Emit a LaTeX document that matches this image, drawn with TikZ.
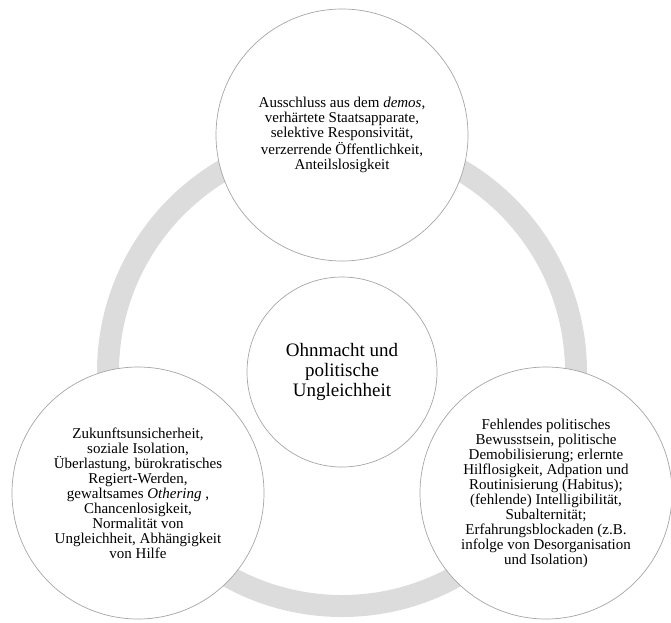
\documentclass[tikz,border=0pt]{standalone}
\usepackage{fontspec}
\setmainfont{Liberation Serif}
\usepackage{tikz}

\definecolor{ringgray}{HTML}{DCDCDC}
\definecolor{circlegray}{HTML}{A6A6A6}

\begin{document}
\begin{tikzpicture}[x=1pt, y=-1pt]

    % Define block styles
    \tikzstyle{bubble} = [circle, draw=circlegray, fill=white, line width=0.7pt,
        minimum size=252pt, inner sep=0pt, align=center,
        font=\fontsize{15}{15}\selectfont]
    \tikzstyle{hubnode} = [bubble, minimum size=190pt,
        font=\fontsize{19}{20}\selectfont]
    \tikzstyle{ring} = [draw=ringgray, line width=22pt]

    \useasboundingbox (0,0) rectangle (671,622);

    % Place nodes
    \node [hubnode] (hub) at (342,372) {Ohnmacht und\\politische\\Ungleichheit};

    % Draw ring
    \draw [ring] (hub.center) circle (234pt);

    \node [bubble] (demos) at (342,135) {Ausschluss aus dem \textit{demos},\\verhärtete Staatsapparate,\\selektive Responsivität,\\verzerrende Öffentlichkeit,\\Anteilslosigkeit};
    \node [bubble] (alltag) at (138,493) {Zukunftsunsicherheit,\\soziale Isolation,\\Überlastung, bürokratisches\\Regiert-Werden,\\gewaltsames \textit{Othering}\ ,\\Chancenlosigkeit,\\Normalität von\\Ungleichheit, Abhängigkeit\\von Hilfe};
    \node [bubble] (habitus) at (546,493) {Fehlendes politisches\\Bewusstsein, politische\\Demobilisierung; erlernte\\Hilflosigkeit, Adpation und\\Routinisierung (Habitus);\\(fehlende) Intelligibilität,\\Subalternität;\\Erfahrungsblockaden (z.B.\\infolge von Desorganisation\\und Isolation)};

\end{tikzpicture}
\end{document}
